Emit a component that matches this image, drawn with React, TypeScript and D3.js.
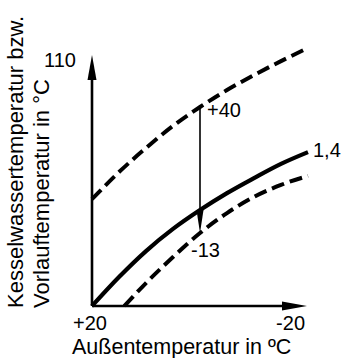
import React from "react";
import * as d3 from "d3";

// Outdoor temperature (°C) sample points
const outdoorTemps = [20, 15, 10, 5, 0, -5, -10, -15, -20];
// Heating curve slope 1,4 (solid)
const solidCurve = [20, 30.6, 40.1, 48.2, 55.1, 61.3, 66.8, 72.0, 76.3];
// Level shift +40 (upper dashed)
const upperCurve = [59.1, 69.0, 77.8, 85.9, 92.8, 99.0, 104.5, 109.6, 114.4];
// Level shift -13 (lower dashed)
const lowerTemps = [14, 10, 5, 0, -5, -10, -15, -20];
const lowerCurve = [20, 28.4, 37.9, 46.7, 54.0, 59.9, 64.3, 67.6];

const xTickLabels = ["+20", "-20"];
const xTickValues = [20, -20];
const yTopValue = 110;
const yTopLabel = "110";
const markerOutdoor = 0;
const upperLabel = "+40";
const lowerLabel = "-13";
const slopeLabel = "1,4";
const xTitle = "Außentemperatur in ºC";
const yTitle1 = "Kesselwassertemperatur bzw.";
const yTitle2 = "Vorlauftemperatur in °C";

const W = 344;
const H = 358;
const FONT = "'Liberation Sans', Arial, Helvetica, sans-serif";

export default function App() {
  const x = d3.scaleLinear().domain([20, -20]).range([92, 308]);
  const y = d3.scaleLinear().domain([20, 110]).range([306, 60]);

  const line = d3
    .line<[number, number]>()
    .x((d) => x(d[0]))
    .y((d) => y(d[1]))
    .curve(d3.curveMonotoneX);

  const solidPts = outdoorTemps.map((t, i) => [t, solidCurve[i]] as [number, number]);
  const upperPts = outdoorTemps.map((t, i) => [t, upperCurve[i]] as [number, number]);
  const lowerPts = lowerTemps.map((t, i) => [t, lowerCurve[i]] as [number, number]);

  const interp = (ts: number[], vs: number[], t: number) => {
    for (let i = 0; i < ts.length - 1; i++) {
      const a = ts[i], b = ts[i + 1];
      if (t <= a && t >= b) {
        const f = (t - a) / (b - a);
        return vs[i] + f * (vs[i + 1] - vs[i]);
      }
    }
    return vs[vs.length - 1];
  };

  const x0 = x(20);
  const y0 = y(20);
  const yAxisTip = y(yTopValue) - 5;
  const xAxisTip = x(-20) - 1;

  const mx = x(markerOutdoor);
  const mTop = y(interp(outdoorTemps, upperCurve, markerOutdoor));
  const mMid = y(interp(outdoorTemps, solidCurve, markerOutdoor));
  const mBot = y(interp(lowerTemps, lowerCurve, markerOutdoor));

  const last = outdoorTemps.length - 1;

  return (
    <svg
      width={W}
      height={H}
      style={{ position: "absolute", left: 0, top: 0, background: "#fff" }}
      fontFamily={FONT}
    >
      <rect width={W} height={H} fill="#fff" />
      {/* Curves */}
      <path d={line(upperPts) || ""} fill="none" stroke="#000" strokeWidth={4} strokeDasharray="13 6" />
      <path d={line(lowerPts) || ""} fill="none" stroke="#000" strokeWidth={4} strokeDasharray="13 6" />
      <path d={line(solidPts) || ""} fill="none" stroke="#000" strokeWidth={4.2} />

      {/* Axes */}
      <line x1={x0} y1={y0} x2={x0} y2={yAxisTip + 20} stroke="#000" strokeWidth={2.6} />
      <polygon
        points={`${x0},${yAxisTip} ${x0 - 4.5},${yAxisTip + 25} ${x0 + 4.5},${yAxisTip + 25}`}
        fill="#000"
      />
      <line x1={x0} y1={y0} x2={xAxisTip - 20} y2={y0} stroke="#000" strokeWidth={2.6} />
      <polygon
        points={`${xAxisTip},${y0} ${xAxisTip - 25},${y0 - 4.5} ${xAxisTip - 25},${y0 + 4.5}`}
        fill="#000"
      />

      {/* Marker arrow */}
      <line x1={mx} y1={mTop} x2={mx} y2={mMid} stroke="#000" strokeWidth={1.6} />
      <polygon points={`${mx - 3.5},${mMid} ${mx + 3.5},${mMid} ${mx},${mBot}`} fill="#000" />

      {/* Labels */}
      <g fontSize={20} fill="#000">
        <text x={x(xTickValues[0]) - 2} y={y0 + 23.5} textAnchor="middle">{xTickLabels[0]}</text>
        <text x={x(xTickValues[1]) - 3} y={y0 + 23.5} textAnchor="end">{xTickLabels[1]}</text>
        <text x={x0 - 16} y={y(yTopValue) + 7} textAnchor="end">{yTopLabel}</text>
        <text x={mx + 7} y={mTop + 10}>{upperLabel}</text>
        <text x={mx - 9} y={mBot + 24}>{lowerLabel}</text>
        <text x={x(outdoorTemps[last]) + 5} y={y(solidCurve[last]) + 5}>{slopeLabel}</text>
      </g>
      <text x={72} y={353.5} fontSize={21.5} fill="#000">{xTitle}</text>
      <g fontSize={22} fill="#000">
        <text transform="translate(23,308) rotate(-90)">{yTitle1}</text>
        <text transform="translate(49,308) rotate(-90)">{yTitle2}</text>
      </g>
    </svg>
  );
}
